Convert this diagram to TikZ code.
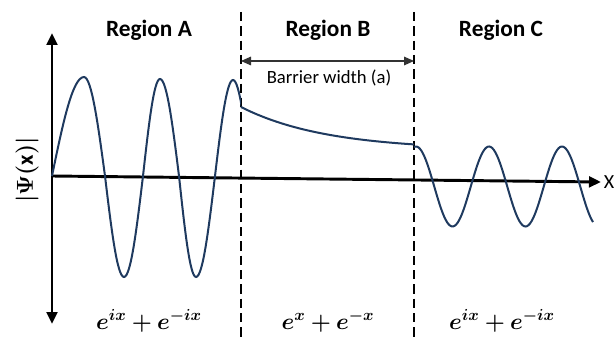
\documentclass[tikz,border=0pt]{standalone}
\usepackage{amsmath,bm}
\usepackage{fontspec}
\setmainfont{Carlito}
\usetikzlibrary{arrows.meta}
\definecolor{wavecol}{HTML}{1F3A5F}
\begin{document}
\begin{tikzpicture}[x=0.75pt,y=-0.75pt,
  wave/.style={draw=wavecol,line width=1.5pt},
  axis/.style={draw=black,line width=2.2pt},
  divider/.style={draw=black,line width=1.7pt,dash pattern=on 7pt off 3.75pt},
  regionlabel/.style={font=\fontsize{17.5}{20}\selectfont\bfseries},
  eqlabel/.style={font=\fontsize{17}{19}\selectfont,anchor=base},
  tip/.style={-{Triangle[length=9pt,width=8pt]}}]
\useasboundingbox (0,0) rectangle (616,338);
% axes
\coordinate (ytop) at (52,33);
\coordinate (ybot) at (52,324);
\coordinate (xo) at (52,176);
\coordinate (xend) at (601,182);
\draw[axis,{Triangle[length=9pt,width=8pt]}-{Triangle[length=9pt,width=8pt]}] (ybot) -- (ytop);
\draw[axis,tip] (xo) -- (xend);
\node[anchor=west,inner sep=0pt,font=\fontsize{15}{17}\selectfont] (xlab) at (603.5,182) {X};
\node[rotate=90,font=\fontsize{17}{19}\selectfont] (ylab) at (27,170) {$\boldsymbol{|\Psi(\mathrm{x})|}$};
% dividers
\coordinate (d1t) at (241,12);
\coordinate (d1b) at (241,338);
\coordinate (d2t) at (414,12);
\coordinate (d2b) at (414,338);
\draw[divider] (d1t) -- (d1b);
\draw[divider] (d2t) -- (d2b);
% barrier width
\coordinate (bl) at (241,61);
\coordinate (br) at (414,61);
\draw[line width=0.8pt,black!80,{Triangle[length=7.5pt,width=6.5pt]}-{Triangle[length=7.5pt,width=6.5pt]}] (bl) -- (br);
\node[font=\fontsize{14}{16}\selectfont] (bw) at (329,78) {Barrier width (a)};
% region labels
\node[regionlabel] (ra) at (149,30) {Region A};
\node[regionlabel] (rb) at (328,30) {Region B};
\node[regionlabel] (rc) at (501,30) {Region C};
% equations
\node[eqlabel] (ea) at (149,329) {$\boldsymbol{e^{ix}+e^{-ix}}$};
\node[eqlabel] (eb) at (328,329) {$\boldsymbol{e^{x}+e^{-x}}$};
\node[eqlabel] (ec) at (502,329) {$\boldsymbol{e^{ix}+e^{-ix}}$};
% waves
\begin{scope}
\clip (40,0) rectangle (241,338);
\draw[wave] (52,176) sin (84,77) cos (105,176) sin (124,277) cos (143,176) sin (160,79) cos (179,176) sin (196,277) cos (215,176) sin (233,80) cos (251,176);
\end{scope}
\draw[wave] plot[domain=241:414,samples=60] (\x,{150-43*exp(-0.0118*(\x-241))});
\draw[wave] plot[domain=414:593,samples=120] (\x,{186.5-40*cos((\x-416)*4.9315)});
\end{tikzpicture}
\end{document}
